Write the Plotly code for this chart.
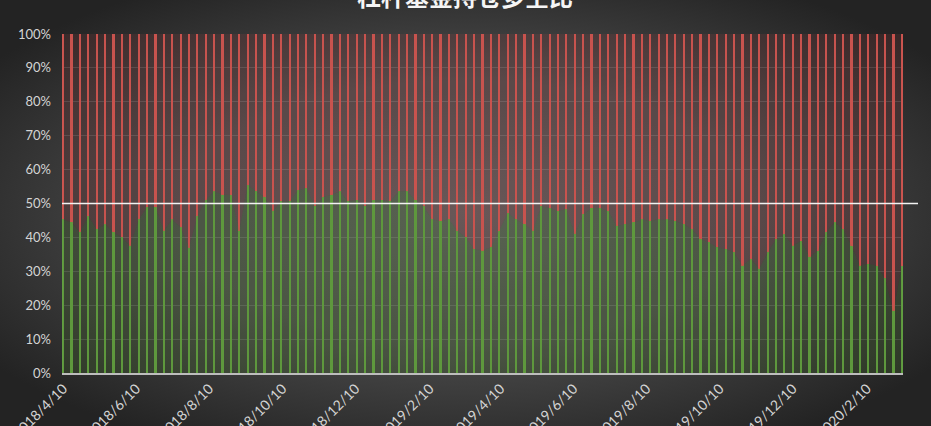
import base64
import datetime as dt
import plotly.graph_objects as go

# ---------------- data ----------------
n_weeks = 101
dates = [dt.date(2018, 4, 10) + dt.timedelta(weeks=i) for i in range(n_weeks)]

long_pct = [
    45.3, 44.4, 41.5, 46.3, 42.4, 43.9, 41.5, 40.0, 37.6, 45.3,
    49.0, 49.0, 42.0, 45.3, 43.0, 37.0, 46.3, 51.0, 53.6, 52.6,
    52.6, 42.0, 55.5, 53.6, 52.0, 47.8, 50.7, 50.7, 54.0, 54.6,
    49.2, 52.0, 52.6, 53.6, 50.7, 51.0, 49.2, 51.0, 51.0, 50.7,
    53.6, 53.6, 51.0, 49.2, 45.3, 44.9, 45.3, 42.0, 40.0, 36.6,
    36.1, 37.1, 42.0, 47.3, 45.3, 43.9, 42.0, 49.2, 48.7, 47.8,
    48.3, 41.0, 46.8, 48.7, 48.7, 47.8, 43.4, 43.9, 44.4, 45.3,
    44.9, 45.3, 45.3, 44.9, 43.9, 42.4, 39.5, 38.5, 37.1, 36.6,
    35.6, 31.7, 33.7, 30.8, 35.6, 39.5, 41.0, 37.6, 39.0, 34.2,
    36.1, 41.5, 44.5, 42.4, 37.6, 31.7, 32.2, 31.7, 27.9, 18.2,
    31.7,
]
short_pct = [round(100 - v, 1) for v in long_pct]

tick_dates = ["2018-04-10", "2018-06-10", "2018-08-10", "2018-10-10", "2018-12-10",
              "2019-02-10", "2019-04-10", "2019-06-10", "2019-08-10", "2019-10-10",
              "2019-12-10", "2020-02-10"]
tick_labels = ["2018/4/10", "2018/6/10", "2018/8/10", "2018/10/10", "2018/12/10",
               "2019/2/10", "2019/4/10", "2019/6/10", "2019/8/10", "2019/10/10",
               "2019/12/10", "2020/2/10"]
y_ticks = list(range(0, 101, 10))
y_labels = [f"{v}%" for v in y_ticks]
title_text = "杠杆基金持仓多空比"

# ---------------- layout geometry ----------------
W, H = 931, 426
ML, MR, MT, MB = 62, 28, 34, 53
PW, PH = W - ML - MR, H - MT - MB

GREEN = "rgb(98,158,66)"
RED = "rgb(204,86,80)"

fig = go.Figure()

# tinted areas (stacked)
fig.add_trace(go.Scatter(x=dates, y=long_pct, stackgroup="a", mode="none",
                         fillcolor="rgba(80,130,45,0.20)", hoverinfo="skip",
                         showlegend=False))
fig.add_trace(go.Scatter(x=dates, y=short_pct, stackgroup="a", mode="none",
                         fillcolor="rgba(180,65,65,0.15)", hoverinfo="skip",
                         showlegend=False))
# thin stacked bars
fig.add_trace(go.Bar(x=dates, y=long_pct, marker_color=GREEN, marker_line_width=0,
                     name="多头", showlegend=False))
fig.add_trace(go.Bar(x=dates, y=short_pct, marker_color=RED, marker_line_width=0,
                     name="空头", showlegend=False))

# background radial gradient as svg image
svg = f"""<svg xmlns='http://www.w3.org/2000/svg' width='{W}' height='{H}' viewBox='0 0 {W} {H}' preserveAspectRatio='none'>
<defs><radialGradient id='g' cx='50%' cy='50%' r='62%' gradientUnits='objectBoundingBox'>
<stop offset='0%' stop-color='#5c5c5c'/><stop offset='50%' stop-color='#4a4a4a'/>
<stop offset='100%' stop-color='#232323'/></radialGradient></defs>
<rect width='{W}' height='{H}' fill='url(#g)'/></svg>"""
src = "data:image/svg+xml;base64," + base64.b64encode(svg.encode()).decode()

fig.update_layout(
    width=W, height=H,
    margin=dict(l=ML, r=MR, t=MT, b=MB, pad=0, autoexpand=False),
    paper_bgcolor="#3a3a3a",
    plot_bgcolor="rgba(0,0,0,0)",
    barmode="stack",
    bargap=0.74,
    showlegend=False,
    images=[dict(source=src, xref="paper", yref="paper",
                 x=-ML / PW, y=1 + MT / PH, sizex=W / PW, sizey=H / PH,
                 xanchor="left", yanchor="top", sizing="stretch", layer="below")],
    xaxis=dict(
        type="date",
        range=["2018-04-09", "2020-03-11"],
        tickvals=tick_dates, ticktext=tick_labels,
        tickangle=-45,
        automargin=False,
        tickfont=dict(family="Lato, Open Sans, sans-serif", size=14, color="#d4d4d4"),
        showgrid=False, zeroline=False,
        showline=True, linecolor="#bdbdbd", linewidth=2,
        ticks="",
    ),
    yaxis=dict(
        range=[0, 100],
        automargin=False,
        tickvals=y_ticks, ticktext=y_labels,
        tickfont=dict(family="Lato, Open Sans, sans-serif", size=13, color="#d4d4d4"),
        showgrid=True, gridcolor="rgba(255,255,255,0.13)", gridwidth=1,
        zeroline=False, showline=False, ticks="",
        ticklabelstandoff=10,
    ),
    shapes=[dict(type="line", xref="paper", yref="y", x0=0, x1=(918 - ML) / PW,
                 y0=50, y1=50, line=dict(color="#f2f2f2", width=1.6), layer="above")],
    annotations=[dict(text=f"<b>{title_text}</b>", xref="paper", yref="paper",
                      x=(465 - ML) / PW, y=(H - MB + 5) / PH, xanchor="center",
                      yanchor="middle", showarrow=False,
                      font=dict(family="Noto Sans CJK SC", size=24, color="#f5f5f5"))],
)

fig.write_html("out.html",
               config={"displayModeBar": False},
               post_script="document.body.style.margin='0';document.body.style.background='#333';")
